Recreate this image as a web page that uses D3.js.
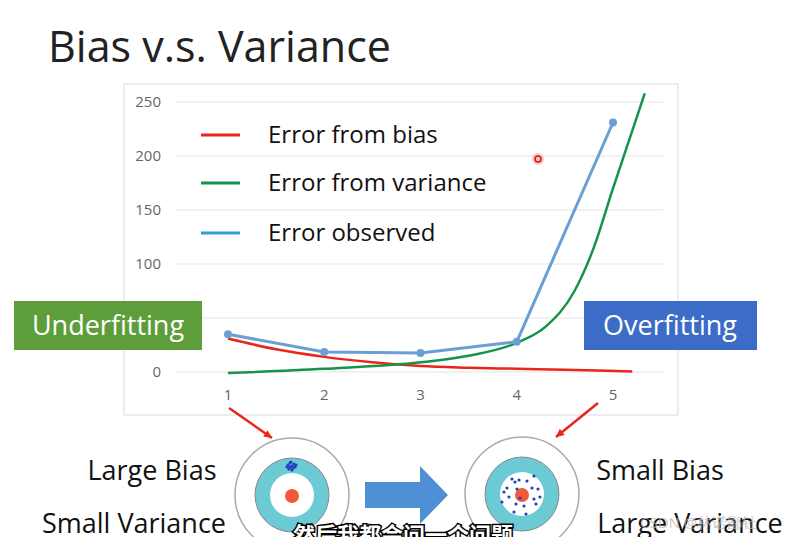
<!DOCTYPE html>
<html><head><meta charset="utf-8">
<script src="https://cdn.jsdelivr.net/npm/d3@7"></script>
<style>body{margin:0;background:#fff;font-family:"Open Sans",Calibri,sans-serif}</style>
</head><body>
<script>
var xTicks = [1,2,3,4,5];
var yTicks = [0,50,100,150,200,250];
var yTickLabels = ["0","","100","150","200","250"];
var observedX = [1,2,3,4,5];
var observedY = [35,18.5,17.5,28,231];
var biasX = [1,1.5,2,2.5,3,3.5,4,4.5,5.2];
var biasY = [31,21,14,9,5.5,4,3,2,0.5];
var varianceX = [1,2,3,3.5,4,4.3,4.6,4.8,5,5.15,5.33];
var varianceY = [-1,3,9,15,27,42,75,115,170,210,258];
var legendNames = ["Error from bias","Error from variance","Error observed"];
var legendColors = ["#e8261c","#16934a","#2d9fd8"];

var svg = d3.select("body").append("svg").attr("width",795).attr("height",537);
svg.append("text").attr("x",48).attr("y",62).attr("font-size",43).attr("fill","#222")
    .attr("font-family","Open Sans").text("Bias v.s. Variance");

//chart frame
svg.append("rect").attr("x",124).attr("y",84).attr("width",554).attr("height",331)
    .attr("fill","#fff").attr("stroke","#d9d9d9");

var x = d3.scaleLinear().domain([1,5]).range([228,613]);
var y = d3.scaleLinear().domain([0,250]).range([372,102]);

yTicks.forEach(function(t,i){//grid + labels
    svg.append("line").attr("x1",175).attr("x2",663).attr("y1",y(t)).attr("y2",y(t))
        .attr("stroke","#e3e3e3").attr("stroke-width",1.2);
    svg.append("text").attr("x",161).attr("y",y(t)+5).attr("text-anchor","end")
        .attr("font-size",15).attr("fill","#666").text(yTickLabels[i]);
});
xTicks.forEach(function(t){
    svg.append("text").attr("x",x(t)).attr("y",400).attr("text-anchor","middle")
        .attr("font-size",15).attr("fill","#666").text(t);
});

var line = d3.line().x(function(d){return x(d[0]);}).y(function(d){return y(d[1]);});
var smooth = d3.line().curve(d3.curveMonotoneX).x(function(d){return x(d[0]);}).y(function(d){return y(d[1]);});
svg.append("path").attr("d",smooth(d3.zip(biasX,biasY))).attr("fill","none")
    .attr("stroke","#e8261c").attr("stroke-width",2.5);
svg.append("path").attr("d",smooth(d3.zip(varianceX,varianceY))).attr("fill","none")
    .attr("stroke","#16934a").attr("stroke-width",2.5);
svg.append("path").attr("d",line(d3.zip(observedX,observedY))).attr("fill","none")
    .attr("stroke","#6a9fd6").attr("stroke-width",3);
svg.selectAll(".pt").data(d3.zip(observedX,observedY)).enter().append("circle")
    .attr("cx",function(d){return x(d[0]);}).attr("cy",function(d){return y(d[1]);})
    .attr("r",4).attr("fill","#6a9fd6");

legendNames.forEach(function(n,i){//legend
    var ly = 135 + i*48 - (i==2?-2:0);
    svg.append("line").attr("x1",201).attr("x2",240).attr("y1",ly).attr("y2",ly)
        .attr("stroke",legendColors[i]).attr("stroke-width",3);
    svg.append("text").attr("x",268).attr("y",ly+8).attr("font-size",24).attr("fill","#111").text(n);
});
//red pointer dot
svg.append("circle").attr("cx",538).attr("cy",159).attr("r",6).attr("fill","#f7b0b0").attr("opacity",0.7);
svg.append("circle").attr("cx",538).attr("cy",159).attr("r",3).attr("fill","none").attr("stroke","#e01010").attr("stroke-width",1.5);

//boxes
svg.append("rect").attr("x",14).attr("y",301).attr("width",188).attr("height",49).attr("fill","#5e9e3a");
svg.append("text").attr("x",108).attr("y",335).attr("text-anchor","middle").attr("font-size",27).attr("fill","#fff").text("Underfitting");
svg.append("rect").attr("x",584).attr("y",301).attr("width",173).attr("height",49).attr("fill","#3a6cc8");
svg.append("text").attr("x",670).attr("y",335).attr("text-anchor","middle").attr("font-size",27).attr("fill","#fff").text("Overfitting");

//red arrows
function arrow(x1,y1,x2,y2){
    svg.append("line").attr("x1",x1).attr("y1",y1).attr("x2",x2).attr("y2",y2).attr("stroke","#e8261c").attr("stroke-width",2.5);
    var a=Math.atan2(y2-y1,x2-x1), s=9;
    svg.append("path").attr("d","M"+x2+","+y2+"L"+(x2-s*Math.cos(a-0.45))+","+(y2-s*Math.sin(a-0.45))+"L"+(x2-s*Math.cos(a+0.45))+","+(y2-s*Math.sin(a+0.45))+"Z").attr("fill","#e8261c");
}
arrow(229,408,272,438);
arrow(598,403,556,437);

//targets
function target(cx,cy,dots){
    svg.append("circle").attr("cx",cx).attr("cy",cy).attr("r",57).attr("fill","#fff").attr("stroke","#aaa").attr("stroke-width",1.5);
    svg.append("circle").attr("cx",cx).attr("cy",cy).attr("r",37).attr("fill","#6ccad5").attr("stroke","#888").attr("stroke-width",1);
    svg.append("circle").attr("cx",cx).attr("cy",cy).attr("r",22).attr("fill","#fff");
    svg.append("circle").attr("cx",cx).attr("cy",cy+1).attr("r",7).attr("fill","#f05a3a");
    dots.forEach(function(d){svg.append("circle").attr("cx",cx+d[0]).attr("cy",cy+d[1]).attr("r",1.6).attr("fill","#2040c0");});
}
target(292,495,[[-4,-30],[-2,-32],[0,-29],[2,-31],[-5,-28],[1,-27],[3,-28],[-3,-26],[-1,-33],[4,-30],[-2,-28],[0,-25]]);
target(522,494,[[-10,-15],[-7,-12],[-3,-14],[5,-13],[12,-18],[-15,-6],[-5,-5],[10,-6],[16,-5],[-20,8],[-13,3],[-6,10],[2,12],[12,5],[18,3],[-8,18],[4,20],[14,10],[-18,-2],[-2,4]]);

//big arrow
svg.append("path").attr("d","M365,482L420,482L420,466L448,495L420,524L420,508L365,508Z").attr("fill","#4f8fd6");

[["Large Bias",152,480],["Small Variance",134,533],["Small Bias",660,480],["Large Variance",690,533]].forEach(function(t){
    svg.append("text").attr("x",t[1]).attr("y",t[2]).attr("text-anchor","middle").attr("font-size",27).attr("fill","#111").text(t[0]);
});
svg.append("text").attr("x",640).attr("y",528).attr("font-size",15).attr("fill","#bbb").attr("opacity",0.8).text("CSDN @林诺鄙钍");
svg.append("text").attr("x",403).attr("y",543).attr("text-anchor","middle").attr("font-size",22).attr("font-weight","bold")
    .attr("font-family","Noto Sans CJK SC").attr("fill","#fff").attr("stroke","#000").attr("stroke-width",3).attr("paint-order","stroke").text("然后我都会问一个问题");
</script>
</body></html>
